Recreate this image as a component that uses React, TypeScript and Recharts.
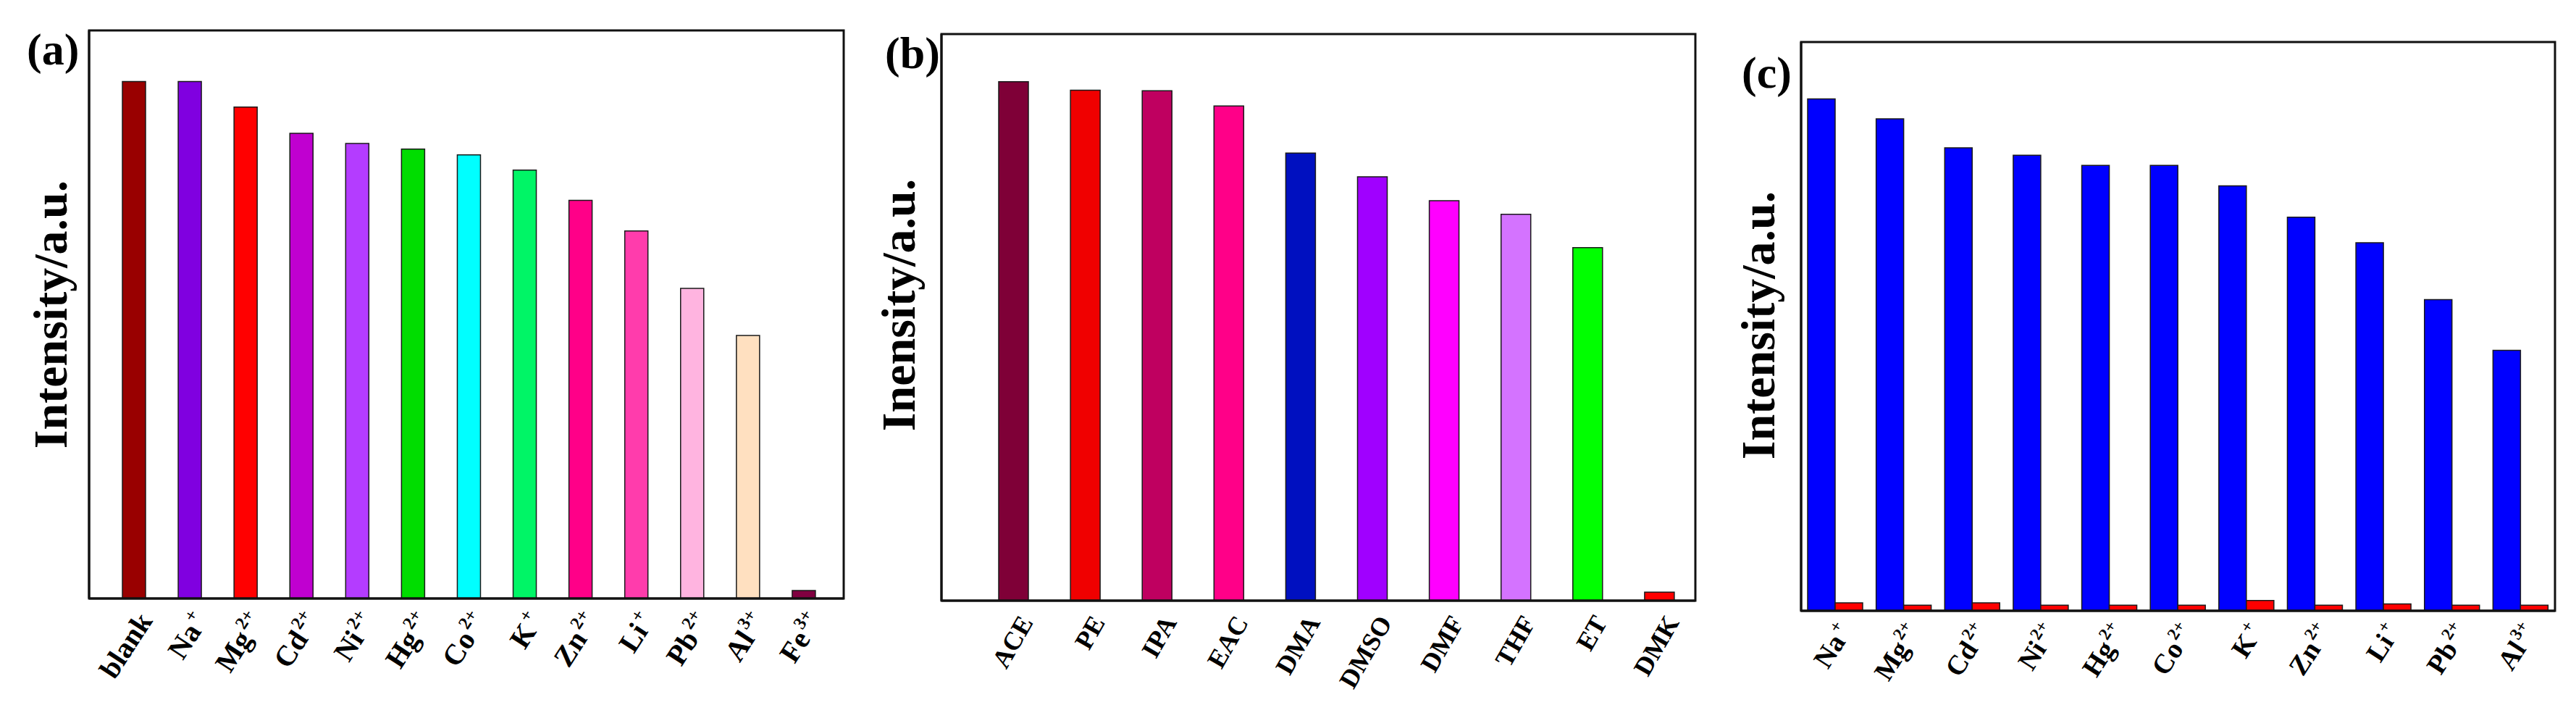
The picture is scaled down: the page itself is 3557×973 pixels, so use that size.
import { BarChart, Bar, XAxis, YAxis, Cell } from 'recharts'

const FONT = '"Liberation Serif", "Times New Roman", serif'

// (a) ions, incl. blank
const ionsA = ['blank', 'Na+', 'Mg2+', 'Cd2+', 'Ni2+', 'Hg2+', 'Co2+', 'K+', 'Zn2+', 'Li+', 'Pb2+', 'Al3+', 'Fe3+']
const intensityA = [91.0, 91.0, 86.5, 81.9, 80.1, 79.1, 78.1, 75.4, 70.1, 64.7, 54.6, 46.3, 1.4]
const colorsA = ['#990000', '#8000e0', '#ff0000', '#c000d0', '#b43cff', '#00dd00', '#00ffff', '#00f566', '#ff0088', '#ff3cac', '#ffb4e0', '#ffe0c0', '#800040']

// (b) solvents
const solventsB = ['ACE', 'PE', 'IPA', 'EAC', 'DMA', 'DMSO', 'DMF', 'THF', 'ET', 'DMK']
const intensityB = [91.6, 90.1, 90.0, 87.3, 79.0, 74.8, 70.6, 68.2, 62.3, 1.5]
const colorsB = ['#7f0037', '#f00000', '#bf0060', '#ff0088', '#0010c0', '#a000ff', '#ff00ff', '#d473ff', '#00ff00', '#ff0000']

// (c) ions without / with Fe3+
const ionsC = ['Na+', 'Mg2+', 'Cd2+', 'Ni2+', 'Hg2+', 'Co2+', 'K+', 'Zn2+', 'Li+', 'Pb2+', 'Al3+']
const ionOnlyC = [90.0, 86.5, 81.4, 80.1, 78.3, 78.3, 74.7, 69.2, 64.7, 54.7, 45.8]
const ionPlusFeC = [1.4, 1.0, 1.4, 1.0, 1.0, 1.0, 1.8, 1.0, 1.2, 1.0, 1.0]

const dataA = ionsA.map((name, i) => ({ name, value: intensityA[i] }))
const dataB = solventsB.map((name, i) => ({ name, value: intensityB[i] }))
const dataC = ionsC.map((name, i) => ({ name, ion: ionOnlyC[i], fe: ionPlusFeC[i] }))

const FRAME = '#111'
const BAR_EDGE = '#1a1a1a'

const makeTick = (fontSize: number, angle: number, dx: number, dy: number) => (props: any) => {
  const { x, y, payload } = props
  const m = /^([A-Za-z]+)(\d*[+-])?$/.exec(String(payload.value))
  const base = m ? m[1] : String(payload.value)
  const sup = m && m[2] ? m[2] : ''
  return (
    <g transform={`translate(${x + dx},${y + dy}) rotate(${angle})`}>
      <text textAnchor="end" fontFamily={FONT} fontWeight="bold" fontSize={fontSize} fill="#000">
        {base}
        {sup && <tspan dx={fontSize * 0.08} dy={-fontSize * 0.42} fontSize={fontSize * 0.62}>{sup}</tspan>}
      </text>
    </g>
  )
}

// panel letter, y title and the closed plot frame; plotWidth is the inner plot width
const makeTitle = (letter: string, lx: number, ly: number, title: string, tx: number, ty: number, plotWidth: number) =>
  (props: any) => {
    const vb = props.viewBox || {}
    const px = (vb.x ?? 0) + (vb.width ?? 0)
    const py = vb.y ?? 0
    const ph = vb.height ?? 0
    return (
      <g>
        <rect x={px} y={py} width={plotWidth} height={ph} fill="none" stroke={FRAME} strokeWidth={3} />
        <text x={lx} y={ly} fontFamily={FONT} fontWeight="bold" fontSize={62} fill="#000">{letter}</text>
        <text x={tx} y={ty} transform={`rotate(-90 ${tx} ${ty})`} textAnchor="middle" dominantBaseline="central"
          fontFamily={FONT} fontWeight="bold" fontSize={66} fill="#000">{title}</text>
      </g>
    )
  }

export default function App() {
  return (
    <div style={{ position: 'absolute', left: 0, top: 0, width: 3557, height: 973, background: '#fff' }}>
      <div style={{ position: 'absolute', left: 0, top: 0 }}>
        <BarChart width={1180} height={973} data={dataA} margin={{ top: 42, right: 15, bottom: 0, left: 0 }}>
          <XAxis dataKey="name" height={147} interval={0} tickSize={0} tickMargin={0} tickLine={false}
            padding={{ left: 23, right: 17 }} axisLine={{ stroke: FRAME, strokeWidth: 3 }}
            tick={makeTick(40, -57, 27, 31)} />
          <YAxis width={123} domain={[0, 100]} tick={false} tickLine={false}
            axisLine={{ stroke: FRAME, strokeWidth: 3 }}
            label={makeTitle('(a)', 37, 89, 'Intensity/a.u.', 69, 434, 1042)} />
          <Bar dataKey="value" barSize={32} stroke={BAR_EDGE} strokeWidth={1.5} isAnimationActive={false}>
            {dataA.map((d, i) => <Cell key={d.name} fill={colorsA[i]} />)}
          </Bar>
        </BarChart>
      </div>

      <div style={{ position: 'absolute', left: 1180, top: 0 }}>
        <BarChart width={1180} height={973} data={dataB} margin={{ top: 47, right: 19, bottom: 0, left: 0 }}>
          <XAxis dataKey="name" height={144} interval={0} tickSize={0} tickMargin={0} tickLine={false}
            padding={{ left: 50, right: 0 }} axisLine={{ stroke: FRAME, strokeWidth: 3 }}
            tick={makeTick(36, -60, 28, 30)} />
          <YAxis width={120} domain={[0, 100]} tick={false} tickLine={false}
            axisLine={{ stroke: FRAME, strokeWidth: 3 }}
            label={makeTitle('(b)', 42, 94, 'Inensity/a.u.', 60, 421, 1041)} />
          <Bar dataKey="value" barSize={41} stroke={BAR_EDGE} strokeWidth={1.5} isAnimationActive={false}>
            {dataB.map((d, i) => <Cell key={d.name} fill={colorsB[i]} />)}
          </Bar>
        </BarChart>
      </div>

      <div style={{ position: 'absolute', left: 2360, top: 0 }}>
        <BarChart width={1197} height={973} data={dataC} margin={{ top: 58, right: 29, bottom: 0, left: 0 }}
          barGap={0}>
          <XAxis dataKey="name" height={130} interval={0} tickSize={0} tickMargin={0} tickLine={false}
            axisLine={{ stroke: FRAME, strokeWidth: 3 }} tick={makeTick(38, -57, 24, 29)} />
          <YAxis width={127} domain={[0, 100]} tick={false} tickLine={false}
            axisLine={{ stroke: FRAME, strokeWidth: 3 }}
            label={makeTitle('(c)', 45, 121, 'Intensity/a.u.', 67, 449, 1041)} />
          <Bar dataKey="ion" barSize={38} fill="#0000ff" stroke={BAR_EDGE} strokeWidth={1.5} isAnimationActive={false} />
          <Bar dataKey="fe" barSize={38} fill="#ff0000" stroke={BAR_EDGE} strokeWidth={1.5} isAnimationActive={false} />
        </BarChart>
      </div>
    </div>
  )
}
